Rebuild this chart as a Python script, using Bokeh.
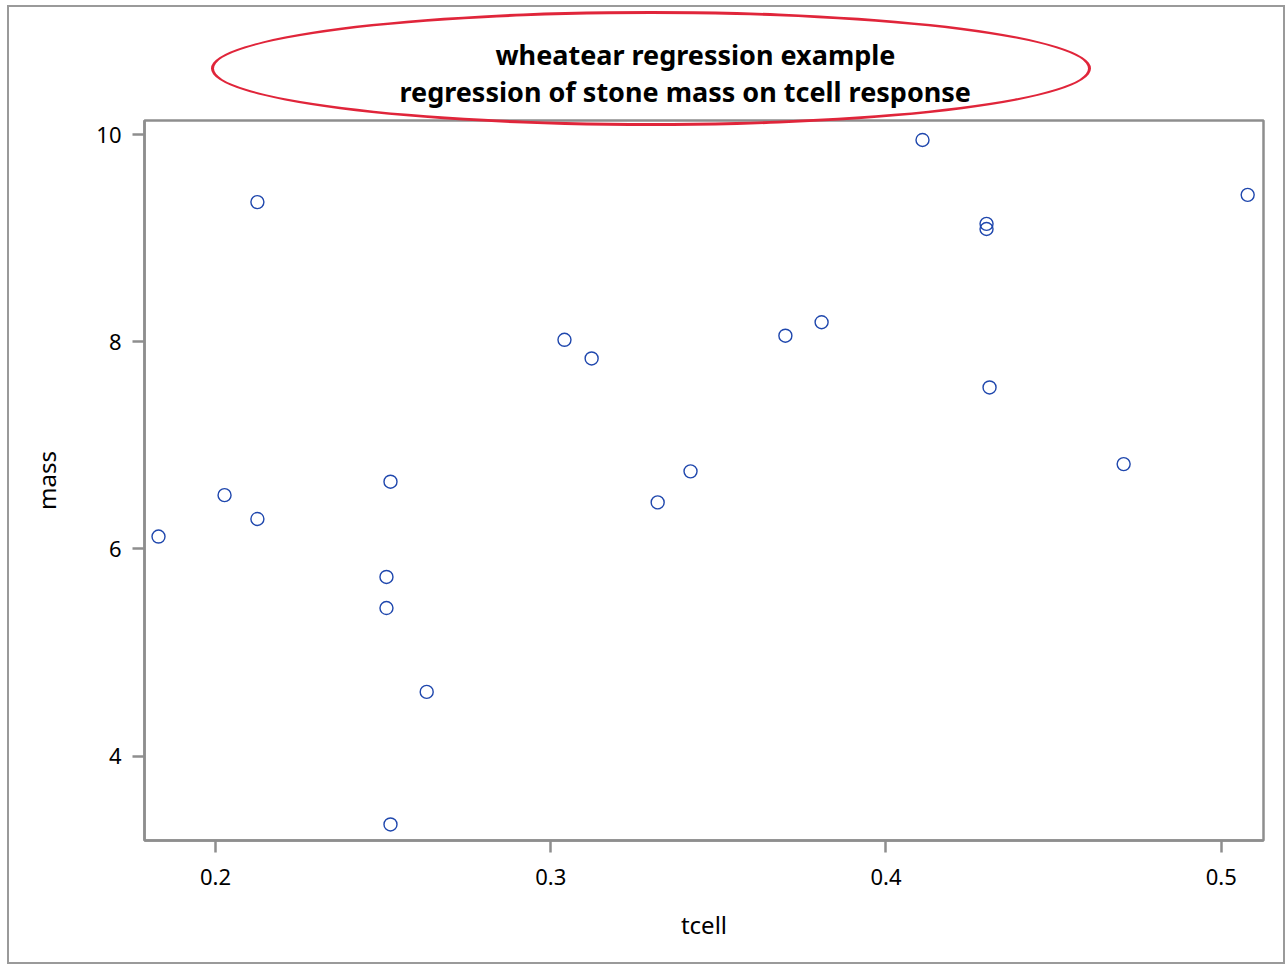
from bokeh.plotting import figure
from bokeh.models import Range1d, FixedTicker, Title, InlineStyleSheet
from bokeh.embed import file_html
from bokeh.resources import INLINE

# data
tcell = [0.183, 0.2027, 0.2125, 0.2125, 0.2522, 0.251, 0.251, 0.263, 0.2522,
         0.3041, 0.3122, 0.3319, 0.3417, 0.370, 0.3808, 0.4109, 0.430, 0.430,
         0.4309, 0.4709, 0.5079]
mass = [6.12, 6.52, 9.35, 6.29, 6.65, 5.73, 5.43, 4.62, 3.34,
        8.02, 7.84, 6.45, 6.75, 8.06, 8.19, 9.95, 9.14, 9.09,
        7.56, 6.82, 9.42]
x_ticks = [0.2, 0.3, 0.4, 0.5]
y_ticks = [4, 6, 8, 10]
title_lines = ["wheatear regression example",
               "regression of stone mass on tcell response"]
x_label = "tcell"
y_label = "mass"

GRAY = "#8e8e8e"
FONT = "Noto Sans"

p = figure(width=1285, height=964, output_backend="svg", toolbar_location=None,
           x_range=Range1d(0.17882, 0.51262), y_range=Range1d(3.185, 10.138),
           min_border_left=144, min_border_right=22, min_border_top=120,
           min_border_bottom=124)

p.scatter(tcell, mass, marker="circle", size=13, fill_color=None,
          line_color="#1f47ad", line_width=1.4)

p.xgrid.visible = False
p.ygrid.visible = False
p.outline_line_color = GRAY
p.outline_line_width = 2.5

for ax, ticks, lab in ((p.xaxis[0], x_ticks, x_label), (p.yaxis[0], y_ticks, y_label)):
    ax.ticker = FixedTicker(ticks=ticks)
    ax.axis_line_color = GRAY
    ax.axis_line_width = 2.5
    ax.major_tick_line_color = GRAY
    ax.major_tick_line_width = 2.5
    ax.major_tick_out = 12
    ax.major_tick_in = 0
    ax.minor_tick_line_color = None
    ax.major_label_text_font = FONT
    ax.major_label_text_font_size = "22px"
    ax.major_label_text_color = "#000000"
    ax.axis_label = lab
    ax.axis_label_text_font = FONT
    ax.axis_label_text_font_size = "24px"
    ax.axis_label_text_font_style = "normal"
    ax.axis_label_text_color = "#000000"

p.xaxis[0].major_label_standoff = 16
p.xaxis[0].axis_label_standoff = 20
p.yaxis[0].major_label_standoff = 11
p.yaxis[0].axis_label_standoff = 30

# two-line title (second line closest to the frame)
offsets = [351, 255]
standoffs = [-26, 22]
for t, off, so in reversed(list(zip(title_lines, offsets, standoffs))):
    p.add_layout(Title(text=t, align="left", offset=off, standoff=so,
                       text_font=FONT, text_font_style="bold",
                       text_font_size="27px", text_color="#000000"), "above")

# decorative outer border and ellipse around the title
css = """
:host { position: relative; }
:host::before {
  content: ""; position: absolute; left: 211px; top: 11px;
  width: 880px; height: 115px; box-sizing: border-box;
  border: 3px solid #e0253a; border-radius: 50%;
  pointer-events: none; z-index: 10;
}
:host::after {
  content: ""; position: absolute; left: 7px; top: 5px;
  width: 1278px; height: 959px; box-sizing: border-box;
  border: 2px solid #9a9a9a; pointer-events: none; z-index: 10;
}
"""
p.stylesheets = [InlineStyleSheet(css=css)]

open("out.html", "w").write(file_html(p, INLINE))
